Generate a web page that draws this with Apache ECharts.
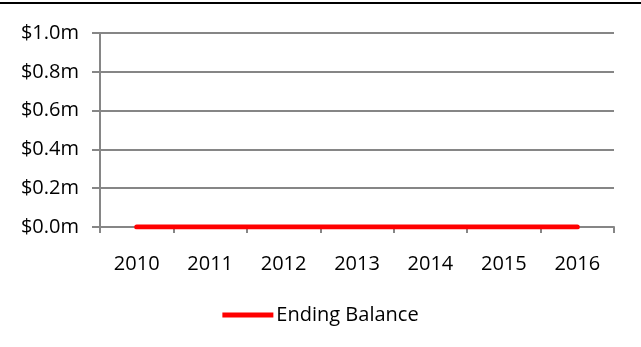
<!DOCTYPE html>
<html><head><meta charset="utf-8">
<script src="https://cdn.jsdelivr.net/npm/echarts@6/dist/echarts.min.js"></script>
<style>html,body{margin:0;padding:0;background:#fff}#c{width:641px;height:347px}</style>
</head><body><div id="c"></div>
<script>
const categories = ['2010','2011','2012','2013','2014','2015','2016'];
const endingBalance = [0, 0, 0, 0, 0, 0, 0];
const seriesName = 'Ending Balance';
const yMin = 0, yMax = 1.0, yStep = 0.2;

const chart = echarts.init(document.getElementById('c'), null, {renderer:'canvas'});
const font = "'Open Sans', 'DejaVu Sans', sans-serif";
chart.setOption({
  animation:false,
  backgroundColor:'#fff',
  textStyle:{fontFamily:font},
  graphic:[{type:'rect', shape:{x:0,y:2,width:641,height:2}, style:{fill:'#000'}}],
  grid:{left:100, right:27, top:33, bottom:120, containLabel:false},
  xAxis:{
    type:'category', data:categories, boundaryGap:true,
    axisLine:{lineStyle:{color:'#868686', width:2}},
    axisTick:{show:true, length:6, lineStyle:{color:'#868686', width:2}},
    axisLabel:{color:'#000', fontSize:20, fontFamily:font, margin:27}
  },
  yAxis:{
    type:'value', min:yMin, max:yMax, interval:yStep,
    axisLine:{show:true, lineStyle:{color:'#868686', width:2}},
    axisTick:{show:true, length:8, lineStyle:{color:'#868686', width:2}},
    splitLine:{lineStyle:{color:'#868686', width:2}},
    axisLabel:{color:'#000', fontSize:20, fontFamily:font, margin:21,
      formatter:v=>'$'+v.toFixed(1)+'m'}
  },
  legend:{
    top:300, left:'center', itemWidth:51, itemHeight:5, itemGap:10,
    textStyle:{color:'#000', fontSize:20, fontFamily:font, padding:[0,0,0,-2]},
    data:[{name:seriesName, icon:'path://M0,0 L51,0 L51,5 L0,5 Z'}]
  },
  series:[{
    name:seriesName, type:'line', data:endingBalance,
    symbol:'none', lineStyle:{color:'#ff0000', width:5, cap:'round'},
    itemStyle:{color:'#ff0000'}
  }]
});
</script></body></html>
